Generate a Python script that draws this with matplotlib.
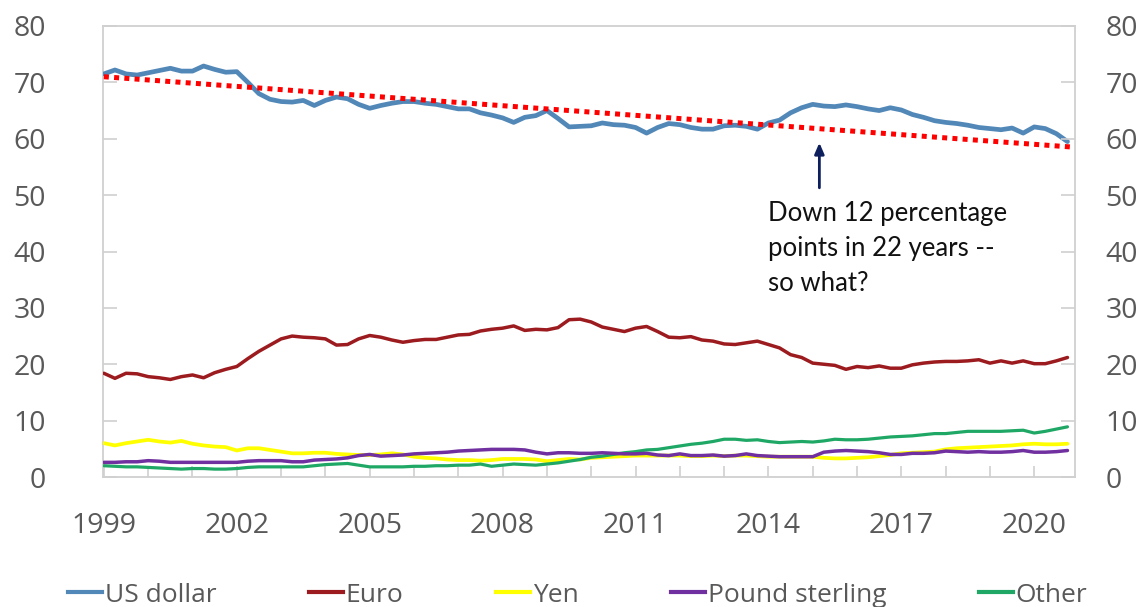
import numpy as np
import matplotlib
matplotlib.use("Agg")
import matplotlib.pyplot as plt
from matplotlib.lines import Line2D

# Quarterly observations, 1999Q1 .. 2020Q4
quarters = 1999 + 0.25 * np.arange(88)

usd = [71.5, 72.2, 71.5, 71.3, 71.7, 72.1, 72.5, 72.0, 72.0, 72.9, 72.3, 71.8,
       71.9, 70.0, 68.0, 67.0, 66.6, 66.5, 66.8, 65.9, 66.8, 67.4, 67.1, 66.1,
       65.4, 65.9, 66.3, 66.6, 66.6, 66.3, 66.1, 65.7, 65.3, 65.3, 64.6, 64.2,
       63.7, 62.9, 63.8, 64.1, 65.0, 63.6, 62.1, 62.2, 62.3, 62.8, 62.5, 62.4,
       62.0, 61.0, 62.0, 62.7, 62.5, 62.0, 61.7, 61.7, 62.3, 62.4, 62.2, 61.7,
       62.8, 63.3, 64.6, 65.5, 66.1, 65.8, 65.7, 66.0, 65.7, 65.3, 65.0, 65.5,
       65.1, 64.3, 63.8, 63.2, 62.9, 62.7, 62.4, 62.0, 61.8, 61.6, 61.9, 61.0,
       62.1, 61.8, 60.9, 59.5]

euro = [18.4, 17.5, 18.4, 18.3, 17.8, 17.6, 17.3, 17.8, 18.1, 17.6, 18.5, 19.1,
        19.6, 21.0, 22.3, 23.4, 24.5, 25.0, 24.8, 24.7, 24.5, 23.4, 23.5, 24.5,
        25.1, 24.8, 24.3, 23.9, 24.2, 24.4, 24.4, 24.8, 25.2, 25.3, 25.9, 26.2,
        26.4, 26.8, 26.0, 26.2, 26.1, 26.5, 27.9, 28.0, 27.5, 26.6, 26.2, 25.8,
        26.4, 26.7, 25.8, 24.8, 24.7, 24.9, 24.3, 24.1, 23.6, 23.5, 23.8, 24.1,
        23.5, 22.9, 21.7, 21.2, 20.2, 20.0, 19.8, 19.1, 19.6, 19.4, 19.7, 19.3,
        19.3, 19.9, 20.2, 20.4, 20.5, 20.5, 20.6, 20.8, 20.2, 20.6, 20.2, 20.6,
        20.1, 20.1, 20.6, 21.2]

yen = [6.0, 5.6, 6.0, 6.3, 6.6, 6.3, 6.1, 6.4, 5.9, 5.6, 5.4, 5.3,
       4.7, 5.1, 5.1, 4.8, 4.5, 4.2, 4.2, 4.3, 4.3, 4.1, 4.0, 3.9,
       3.9, 4.0, 4.2, 4.0, 3.6, 3.4, 3.3, 3.1, 3.0, 3.0, 2.9, 3.0,
       3.2, 3.2, 3.2, 3.1, 2.8, 3.0, 3.2, 3.1, 3.4, 3.5, 3.6, 3.7,
       3.8, 3.8, 3.8, 3.8, 3.8, 3.7, 3.7, 3.8, 3.7, 3.8, 3.8, 3.7,
       3.6, 3.6, 3.6, 3.6, 3.6, 3.4, 3.3, 3.3, 3.4, 3.5, 3.7, 3.9,
       4.2, 4.3, 4.4, 4.5, 4.9, 5.1, 5.2, 5.3, 5.4, 5.5, 5.6, 5.8,
       5.9, 5.8, 5.8, 5.9]

pound = [2.6, 2.6, 2.7, 2.7, 2.9, 2.8, 2.6, 2.6, 2.6, 2.6, 2.6, 2.6,
         2.6, 2.8, 2.9, 2.9, 2.9, 2.7, 2.7, 3.0, 3.1, 3.2, 3.4, 3.8,
         4.0, 3.7, 3.8, 3.9, 4.1, 4.2, 4.3, 4.4, 4.6, 4.7, 4.8, 4.9,
         4.9, 4.9, 4.8, 4.4, 4.1, 4.3, 4.3, 4.2, 4.2, 4.3, 4.2, 4.1,
         4.1, 4.2, 3.9, 3.8, 4.1, 3.8, 3.8, 3.9, 3.7, 3.8, 4.1, 3.8,
         3.7, 3.6, 3.6, 3.6, 3.6, 4.4, 4.6, 4.7, 4.6, 4.5, 4.3, 4.0,
         4.0, 4.2, 4.2, 4.3, 4.6, 4.5, 4.4, 4.5, 4.4, 4.4, 4.5, 4.7,
         4.4, 4.4, 4.5, 4.7]

other = [2.0, 1.9, 1.8, 1.8, 1.7, 1.6, 1.5, 1.4, 1.5, 1.5, 1.4, 1.4,
         1.5, 1.7, 1.8, 1.8, 1.8, 1.8, 1.8, 2.0, 2.2, 2.3, 2.4, 2.1,
         1.8, 1.8, 1.8, 1.8, 1.9, 1.9, 2.0, 2.0, 2.1, 2.1, 2.3, 1.9,
         2.1, 2.3, 2.2, 2.1, 2.3, 2.5, 2.8, 3.1, 3.5, 3.7, 4.0, 4.3,
         4.5, 4.8, 4.9, 5.2, 5.5, 5.8, 6.0, 6.3, 6.7, 6.7, 6.5, 6.6,
         6.3, 6.1, 6.2, 6.3, 6.2, 6.4, 6.7, 6.6, 6.6, 6.7, 6.9, 7.1,
         7.2, 7.3, 7.5, 7.7, 7.7, 7.9, 8.1, 8.1, 8.1, 8.1, 8.2, 8.3,
         7.8, 8.1, 8.5, 8.9]

series_names = ["US dollar", "Euro", "Yen", "Pound sterling", "Other"]
series_colors = ["#5288b8", "#9c1b1f", "#ffff00", "#7030a0", "#1fa865"]

trend_x = [1999.0, 2020.9]
trend_y = [71.0, 58.5]

annot_text = "Down 12 percentage\npoints in 22 years --\nso what?"
arrow_x = 2015.15
arrow_from, arrow_to = 51.3, 59.3

x_label_years = list(range(1999, 2021, 3))
y_ticks = list(range(0, 81, 10))

W, H = 1145, 607
fig = plt.figure(figsize=(W / 100, H / 100), dpi=100)
ax = fig.add_axes([103 / W, 1 - 477 / H, (1075 - 103) / W, (477 - 26) / H])

tick_gray = "#595959"
spine_gray = "#d0d0d0"
font = "Open Sans"

data = [usd, euro, yen, pound, other]
widths = [3.4, 2.5, 2.7, 2.5, 2.3]
for k in [2, 4, 3, 1, 0]:
    ax.plot(quarters, data[k], color=series_colors[k], lw=widths[k],
            solid_capstyle="round", solid_joinstyle="round", zorder=3 + (k == 0))

ax.plot(trend_x, trend_y, color="#ff0000", lw=3.6, linestyle=(0, (1, 1.05)), zorder=5)

ax.annotate("", xy=(arrow_x, arrow_to), xytext=(arrow_x, arrow_from),
            arrowprops=dict(arrowstyle="-|>,head_length=0.65,head_width=0.28",
                            color="#0d1f5c", lw=2.0, shrinkA=0, shrinkB=0), zorder=6)
ax.text(2014.0, 48.9, annot_text, ha="left", va="top", fontsize=18.5,
        family="Lato", color="#111111", linespacing=1.5, zorder=6)

ax.set_xlim(1998.98, 2020.92)
ax.set_ylim(0, 80)

all_years = list(range(1999, 2021))
ax.set_xticks(all_years)
ax.set_xticklabels([str(y) if y in x_label_years else "" for y in all_years])
ax.set_yticks(y_ticks)
ax.tick_params(axis="x", direction="in", length=8, width=1.2, color=spine_gray,
               pad=25, labelsize=20.5, labelcolor=tick_gray)
ax.tick_params(axis="y", direction="in", length=10, width=1.2, color=spine_gray,
               pad=41, labelsize=20.5, labelcolor=tick_gray)
for lab in ax.get_xticklabels() + ax.get_yticklabels():
    lab.set_family(font)
for s in ax.spines.values():
    s.set_color(spine_gray)
    s.set_linewidth(1.3)

ax2 = ax.twinx()
ax2.set_ylim(ax.get_ylim())
ax2.set_yticks(y_ticks)
ax2.tick_params(axis="y", direction="in", length=10, width=1.2, color=spine_gray,
                pad=22, labelsize=20.5, labelcolor=tick_gray)
for lab in ax2.get_yticklabels():
    lab.set_family(font)
for s in ax2.spines.values():
    s.set_visible(False)

handles = [Line2D([], [], color=c, lw=3.0) for c in series_colors]
leg = fig.legend(handles, series_names, loc="center left", bbox_to_anchor=(68 / W, 1 - 595 / H),
                 ncol=5, frameon=False, handlelength=1.3, handletextpad=0.1,
                 columnspacing=3.5, prop={"family": font, "size": 19},
                 labelcolor=tick_gray, borderaxespad=0, borderpad=0)

fig.savefig("out.png", dpi=100)
